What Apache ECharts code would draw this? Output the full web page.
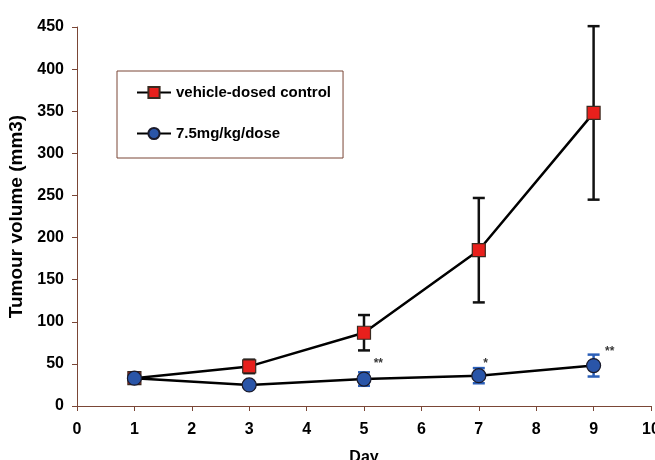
<!DOCTYPE html>
<html><head><meta charset="utf-8">
<script src="https://cdn.jsdelivr.net/npm/echarts@6/dist/echarts.min.js"></script>
<style>html,body{margin:0;padding:0;background:#fff}#c{width:655px;height:460px}</style>
</head><body><div id="c"></div>
<script>
var days = [1, 3, 5, 7, 9];
var controlMean = [33, 47, 87, 185, 348];
var controlErr = [3, 8, 21, 62, 103];
var doseMean = [33, 25, 32, 36, 48];
var doseErr = [3, 3, 8, 9, 13];
var sigDays = [5.25, 7.12, 9.28];
var sigY = [50, 50, 65];
var sigLabels = ['**', '*', '**'];
var xTicks = [0, 10, 1];
var yTicks = [0, 450, 50];

var axisColor = '#7a4636';
var font = 'Liberation Sans, Arial, sans-serif';

function pts(means) { return days.map(function (d, i) { return [d, means[i]]; }); }
function errs(means, e) { return days.map(function (d, i) { return [d, means[i] - e[i], means[i] + e[i]]; }); }

function errItem(color) {
  return function (params, api) {
    var x = api.value(0);
    var lo = api.coord([x, api.value(1)]);
    var hi = api.coord([x, api.value(2)]);
    var w = 6;
    var st = { stroke: color, lineWidth: 2.5 };
    return { type: 'group', children: [
      { type: 'line', shape: { x1: lo[0], y1: lo[1], x2: hi[0], y2: hi[1] }, style: st },
      { type: 'line', shape: { x1: lo[0] - w, y1: lo[1], x2: lo[0] + w, y2: lo[1] }, style: st },
      { type: 'line', shape: { x1: hi[0] - w, y1: hi[1], x2: hi[0] + w, y2: hi[1] }, style: st }
    ]};
  };
}

var chart = echarts.init(document.getElementById('c'));
chart.setOption({
  animation: false,
  backgroundColor: '#fff',
  grid: { left: 77, right: 4, top: 27, bottom: 54, outerBoundsMode: 'none', containLabel: false },
  legend: {
    orient: 'vertical', left: 117, top: 71,
    padding: [14, 12, 17, 19], itemGap: 26, itemWidth: 34, itemHeight: 14,
    borderColor: axisColor, borderWidth: 1,
    textStyle: { fontFamily: font, fontWeight: 'bold', fontSize: 15, color: '#000' },
    data: ['vehicle-dosed control', '7.5mg/kg/dose']
  },
  xAxis: {
    type: 'value', min: xTicks[0], max: xTicks[1], interval: xTicks[2],
    name: 'Day', nameLocation: 'middle', nameGap: 44,
    nameTextStyle: { fontFamily: font, fontWeight: 'bold', fontSize: 16, color: '#000' },
    axisLine: { lineStyle: { color: axisColor, width: 1 } },
    axisTick: { lineStyle: { color: axisColor }, length: 5 },
    splitLine: { show: false },
    axisLabel: { fontFamily: font, fontWeight: 'bold', fontSize: 16, color: '#000', margin: 16 }
  },
  yAxis: {
    type: 'value', min: yTicks[0], max: yTicks[1], interval: yTicks[2],
    name: 'Tumour volume (mm3)', nameLocation: 'middle', nameGap: 45,
    nameTextStyle: { fontFamily: font, fontWeight: 'bold', fontSize: 19, color: '#000' },
    axisLine: { show: true, lineStyle: { color: axisColor, width: 1 } },
    axisTick: { show: true, lineStyle: { color: axisColor }, length: 5 },
    splitLine: { show: false },
    axisLabel: { fontFamily: font, fontWeight: 'bold', fontSize: 16, color: '#000', margin: 13 }
  },
  series: [
    { type: 'custom', name: 'errC', data: errs(controlMean, controlErr), renderItem: errItem('#111'), z: 1, silent: true },
    { type: 'custom', name: 'errD', data: errs(doseMean, doseErr), renderItem: errItem('#2b5fb8'), z: 1, silent: true },
    { type: 'line', name: 'vehicle-dosed control', data: pts(controlMean), symbol: 'rect', symbolSize: 13,
      lineStyle: { color: '#000', width: 2.5 }, itemStyle: { color: '#e8201c', borderColor: '#3a2a20', borderWidth: 1.2 }, z: 3 },
    { type: 'line', name: '7.5mg/kg/dose', data: pts(doseMean), symbol: 'circle', symbolSize: 14,
      lineStyle: { color: '#000', width: 2.5 }, itemStyle: { color: '#2a55a8', borderColor: '#1a1a2a', borderWidth: 1.2 }, z: 4 },
    { type: 'scatter', name: 'sig', data: sigDays.map(function (d, i) { return [d, sigY[i], sigLabels[i]]; }),
      symbolSize: 0, silent: true,
      label: { show: true, position: 'inside', formatter: function (p) { return p.data[2]; },
        fontFamily: font, fontWeight: 'bold', fontSize: 12, color: '#000' } }
  ]
});
</script></body></html>
